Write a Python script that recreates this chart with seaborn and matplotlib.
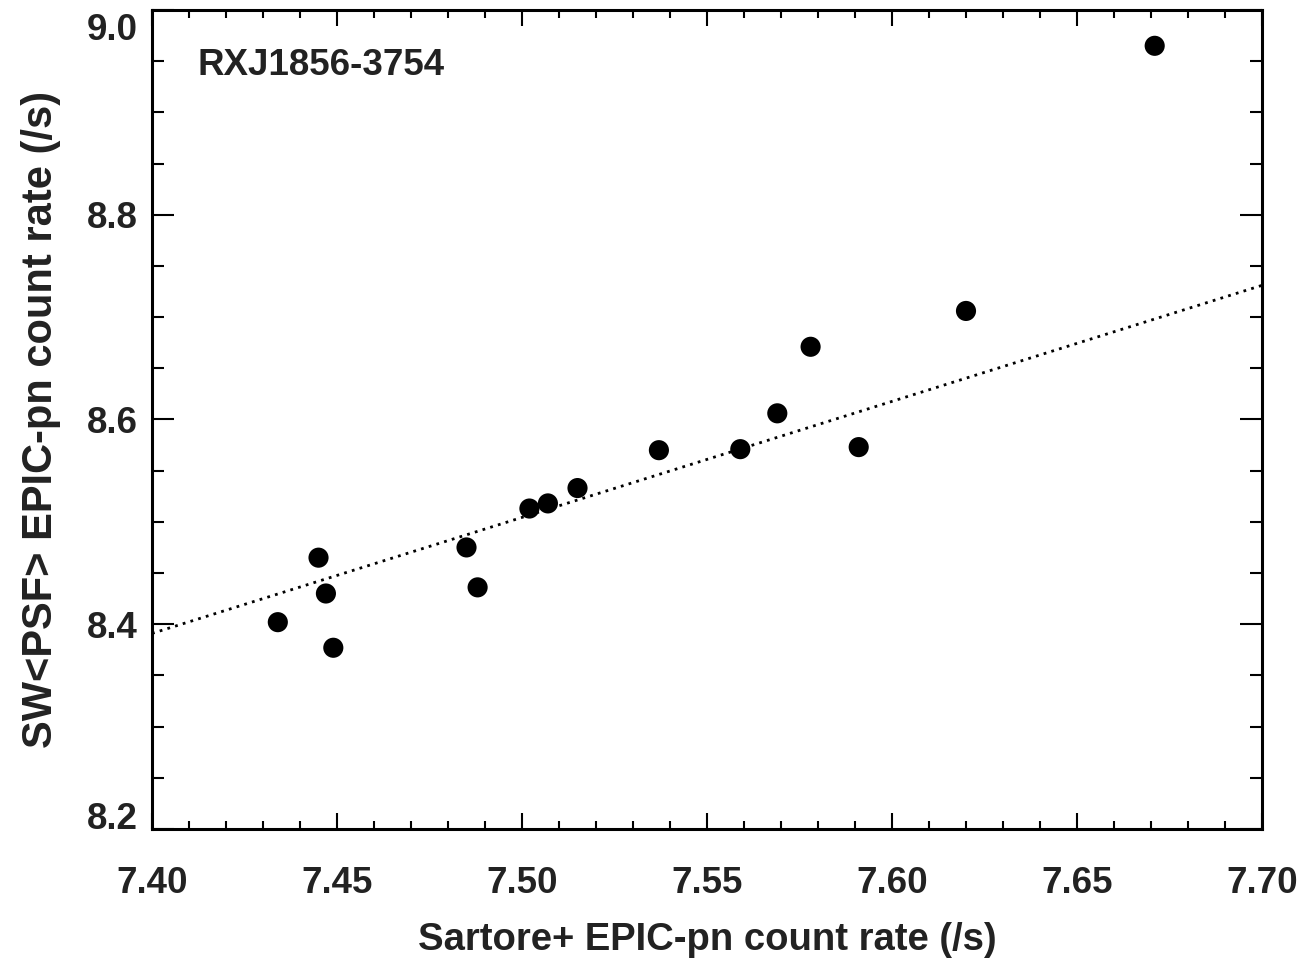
import seaborn as sns
import matplotlib.pyplot as plt
from matplotlib.ticker import MultipleLocator
from matplotlib.transforms import ScaledTranslation

# count rates (per second)
sartore_rate = [7.434, 7.445, 7.447, 7.449, 7.485, 7.488, 7.502, 7.507,
                7.515, 7.537, 7.559, 7.569, 7.578, 7.591, 7.620, 7.671]
sw_psf_rate = [8.402, 8.465, 8.430, 8.377, 8.475, 8.436, 8.513, 8.518,
               8.533, 8.570, 8.571, 8.606, 8.671, 8.573, 8.706, 8.965]

# dotted relation drawn across the full x range
line_x = [7.40, 7.70]
line_y = [8.391, 8.731]

x_ticks = [7.40, 7.45, 7.50, 7.55, 7.60, 7.65, 7.70]
y_ticks = [8.2, 8.4, 8.6, 8.8, 9.0]

sns.set_style("ticks")
plt.rcParams['font.family'] = ['Liberation Sans', 'DejaVu Sans']
plt.rcParams['font.weight'] = 'bold'
plt.rcParams['axes.labelweight'] = 'bold'
txt = '#222222'

fig = plt.figure(figsize=(13.06, 9.59), dpi=100)
ax = fig.add_axes([0.1164, 0.1356, 0.8499, 0.8540])

sns.lineplot(x=line_x, y=line_y, ax=ax, color='black', lw=2,
             dashes=False, linestyle=(0, (1, 1.9)))
sns.scatterplot(x=sartore_rate, y=sw_psf_rate, ax=ax, color='black',
                s=210, edgecolor='none', zorder=3)

ax.set_xlim(7.40, 7.70)
ax.set_ylim(8.2, 9.0)
ax.set_xticks(x_ticks)
ax.set_xticklabels([f"{v:.2f}" for v in x_ticks])
ax.set_yticks(y_ticks)
ax.set_yticklabels([f"{v:.1f}" for v in y_ticks])
ax.xaxis.set_minor_locator(MultipleLocator(0.01))
ax.yaxis.set_minor_locator(MultipleLocator(0.05))

for s in ax.spines.values():
    s.set_linewidth(2.2)
    s.set_color('black')

ax.tick_params(which='both', direction='in', top=True, right=True,
               width=1.5, color='black', labelcolor=txt, labelsize=26.5)
ax.tick_params(axis='x', which='major', length=11.5, pad=27)
ax.tick_params(axis='x', which='minor', length=5.8)
ax.tick_params(axis='y', which='major', length=15.8, pad=10.5)
ax.tick_params(axis='y', which='minor', length=8.6)

# end labels on the y axis sit inside the axis range
ylabs = ax.get_yticklabels()
ylabs[0].set_va('baseline')
ylabs[-1].set_va('top')
ylabs[-1].set_transform(ylabs[-1].get_transform() +
                        ScaledTranslation(0, -3 / 100, fig.dpi_scale_trans))

ax.set_xlabel("Sartore+ EPIC-pn count rate (/s)", fontsize=27.5,
              color=txt, va='baseline')
ax.set_ylabel("SW<PSF> EPIC-pn count rate (/s)", fontsize=30,
              color=txt, va='baseline')
ax.xaxis.set_label_coords(0.5, -0.1477)
ax.yaxis.set_label_coords(-0.0901, 0.5)

ax.text(0.0414, 0.9206, "RXJ1856-3754", transform=ax.transAxes,
        fontsize=26.5, color=txt, va='baseline', ha='left')

plt.savefig("out.png", dpi=100)
